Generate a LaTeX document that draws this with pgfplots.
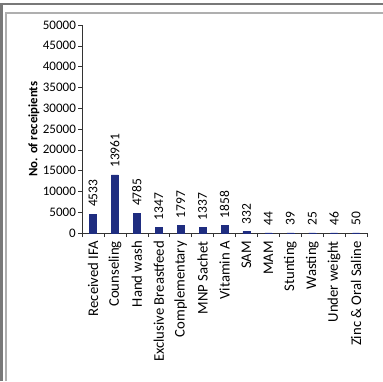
\documentclass[border=0pt]{standalone}
\usepackage{pgfplots}
\pgfplotsset{compat=1.18}
\usepackage{fontspec}
\setmainfont{Carlito}
\definecolor{barblue}{RGB}{31,45,128}
\definecolor{framedark}{RGB}{120,120,120}
\definecolor{framelight}{RGB}{175,175,175}

\begin{document}
\begin{tikzpicture}
\path[use as bounding box] (0pt,0pt) rectangle (383pt,381pt);
% outer frame (double line on top and left)
\draw[framedark, line width=2.4pt] (1.6pt,0pt) -- (1.6pt,377pt) -- (383pt,377pt);
\draw[framelight, line width=2pt] (6pt,0pt) -- (6pt,368pt) -- (383pt,368pt);

\begin{axis}[
  at={(93pt,148pt)}, anchor=origin,
  scale only axis,
  width=285pt, height=208pt,
  xmin=-0.5, xmax=12.5,
  ymin=0, ymax=50000,
  axis x line=bottom, axis y line=left,
  axis line style={-, black!80, line width=0.8pt},
  xtick={0,...,12},
  xticklabels={Received IFA, Counseling, Hand wash, Exclusive Breastfeed,
    Complementary, MNP Sachet, Vitamin A, SAM, MAM, Stunting, Wasting,
    Under weight, Zinc \& Oral Saline},
  major x tick style={draw=none},
  minor xtick={-0.5,0.5,...,12.5},
  minor x tick style={black!80, line width=0.6pt},
  minor tick length=4pt,
  ytick={0,5000,...,50000},
  major tick length=4pt,
  ytick style={black!80, line width=0.6pt},
  tick align=outside,
  scaled y ticks=false,
  /pgf/number format/.cd, set thousands separator={}, assume math mode=true,
  /pgfplots/.cd,
  yticklabel style={font=\fontsize{13}{13}\selectfont, inner xsep=2pt},
  xticklabel style={font=\fontsize{14.7}{14.7}\selectfont, rotate=90, anchor=east, inner xsep=4pt},
  ylabel={\textbf{No. of receipients}},
  ylabel style={font=\fontsize{12.8}{12.8}\selectfont, yshift=-2pt},
  nodes near coords,
  every node near coord/.append style={font=\fontsize{13.5}{13.5}\selectfont, rotate=90, anchor=west, inner xsep=7pt, black},
  ybar, bar width=7pt,
]
\addplot[fill=barblue, draw=barblue] coordinates {
  (0,4533) (1,13961) (2,4785) (3,1347) (4,1797) (5,1337) (6,1858)
  (7,332) (8,44) (9,39) (10,25) (11,46) (12,50)
};
\end{axis}
\end{tikzpicture}
\end{document}
